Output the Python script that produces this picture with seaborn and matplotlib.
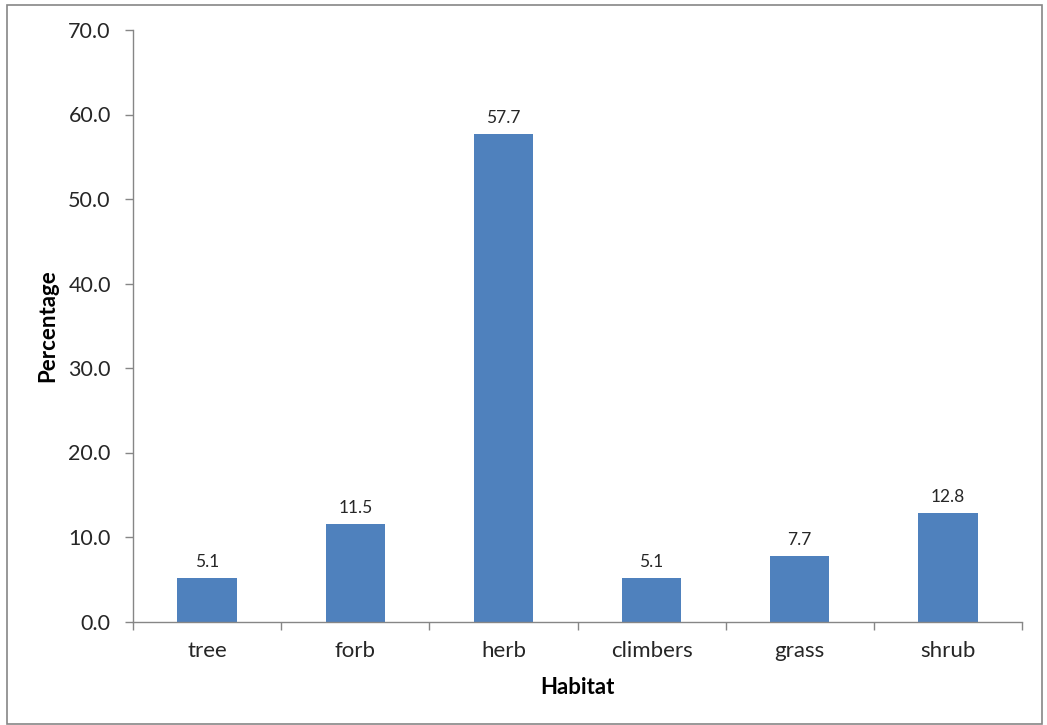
import matplotlib
matplotlib.use("Agg")
import matplotlib.pyplot as plt
import matplotlib.patches as mpatches
from matplotlib.ticker import FixedLocator, MultipleLocator, FormatStrFormatter
import seaborn as sns
import pandas as pd

categories = ["tree", "forb", "herb", "climbers", "grass", "shrub"]
percentages = [5.1, 11.5, 57.7, 5.1, 7.7, 12.8]
value_labels = ["5.1", "11.5", "57.7", "5.1", "7.7", "12.8"]

sns.set_theme(style="white")
plt.rcParams['font.family'] = ['Lato', 'DejaVu Sans']

df = pd.DataFrame({"Habitat": categories, "Percentage": percentages})

fig = plt.figure(figsize=(10.47, 7.25), dpi=100)
ax = fig.add_axes([133/1047, 1-621.5/725, (1022-133)/1047, (621.5-30)/725])

sns.barplot(data=df, x="Habitat", y="Percentage", color="#4F81BD",
            saturation=1, width=0.4, ax=ax, edgecolor="#4F81BD", linewidth=0)

for i, (v, lab) in enumerate(zip(percentages, value_labels)):
    ax.annotate(lab, (i, v), xytext=(0, 6), textcoords="offset points",
                ha="center", va="bottom", fontsize=12.5, color="#262626")

ax.set_ylim(0, 70)
ax.set_xlim(-0.5, len(categories) - 0.5)
ax.yaxis.set_major_locator(MultipleLocator(10))
ax.yaxis.set_major_formatter(FormatStrFormatter("%.1f"))

# x ticks at category boundaries, labels at centers
ax.xaxis.set_major_locator(FixedLocator([i - 0.5 for i in range(len(categories) + 1)]))
ax.xaxis.set_minor_locator(FixedLocator(list(range(len(categories)))))
ax.set_xticklabels([], minor=False)
ax.set_xticklabels(categories, minor=True)
ax.tick_params(axis="x", which="major", direction="out", length=6, width=1, color="#868686", bottom=True)
ax.tick_params(axis="x", which="minor", length=0, pad=14, labelsize=16, labelcolor="#262626")
ax.tick_params(axis="y", which="major", direction="out", length=6, width=1, color="#868686",
               left=True, pad=10, labelsize=15.5, labelcolor="#262626")

for side in ["top", "right"]:
    ax.spines[side].set_visible(False)
for side in ["left", "bottom"]:
    ax.spines[side].set_color("#868686")
    ax.spines[side].set_linewidth(1)

ax.set_xlabel("Habitat", fontsize=16, fontweight="bold", color="#000000", va="center")
ax.set_ylabel("Percentage", fontsize=16, fontweight="bold", color="#000000", va="center")
ax.xaxis.set_label_coords(0.5, (621.5 - 687) / 591.5)
ax.yaxis.set_label_coords((48 - 133) / 889, 0.5)

# figure border
border = mpatches.Rectangle((7/1047, 1-724/725), (1042-7)/1047, (724-5)/725,
                            transform=fig.transFigure, fill=False,
                            edgecolor="#868686", linewidth=1.2)
fig.patches.append(border)

fig.savefig("out.png", dpi=100, facecolor="white")
